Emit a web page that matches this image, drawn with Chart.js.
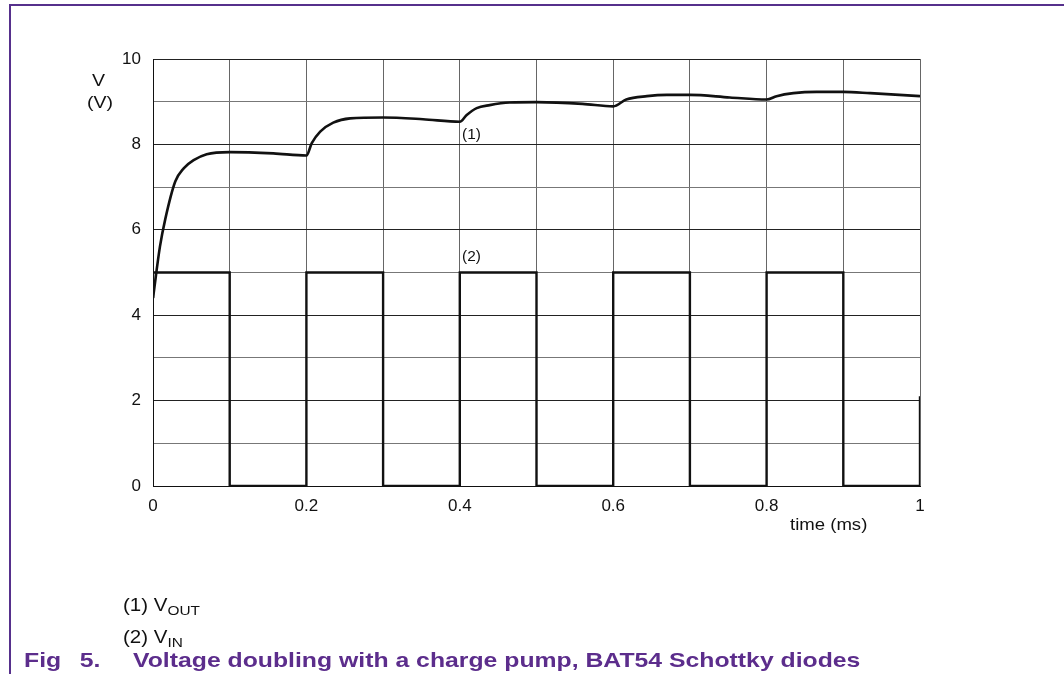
<!DOCTYPE html>
<html>
<head>
<meta charset="utf-8">
<script src="https://cdn.jsdelivr.net/npm/chart.js@4.4.0/dist/chart.umd.min.js"></script>
<style>
  body { margin: 0; background: #fff; font-family: "Liberation Sans", Arial, sans-serif; }
  #wrap { position: relative; width: 1064px; height: 674px; overflow: hidden; }
  canvas { position: absolute; left: 0; top: 0; }
  .frameTop { position: absolute; left: 9px; top: 4px; width: 1060px; height: 0; border-top: 2px solid #56308c; }
  .frameLeft { position: absolute; left: 9px; top: 4px; width: 0; height: 680px; border-left: 2px solid #56308c; }
  .t { position: absolute; color: #111; white-space: nowrap; transform-origin: 0 0; }
  .cap { position: absolute; color: #5c2d8c; font-weight: bold; font-size: 21px; white-space: nowrap; transform-origin: 0 0; transform: scaleX(1.18); }
  sub { font-size: 75%; vertical-align: -4px; line-height: 0; }
</style>
</head>
<body>
<div id="wrap">
  <canvas id="grafico" width="1064" height="674"></canvas>
  <div class="frameTop"></div>
  <div class="frameLeft"></div>
  <div class="t" style="left:92px; top:71px; font-size:17px; transform:scaleX(1.15);">V</div>
  <div class="t" style="left:87px; top:93px; font-size:17px; transform:scaleX(1.15);">(V)</div>
  <div class="t" style="left:462px; top:126px; font-size:14px; transform:scaleX(1.1);">(1)</div>
  <div class="t" style="left:462px; top:248px; font-size:14px; transform:scaleX(1.1);">(2)</div>
  <div class="t" style="left:790px; top:516px; font-size:16px; transform:scaleX(1.16);">time (ms)</div>
  <div class="t" style="left:123px; top:595px; font-size:18px; transform:scaleX(1.14);">(1) V<sub>OUT</sub></div>
  <div class="t" style="left:123px; top:627px; font-size:18px; transform:scaleX(1.14);">(2) V<sub>IN</sub></div>
  <div class="cap" style="left:24px; top:648px; word-spacing:10px;">Fig 5.</div>
  <div class="cap" style="left:133px; top:648px;">Voltage doubling with a charge pump, BAT54 Schottky diodes</div>
</div>
<script>
// (1) VOUT - tensão de saída
const tempoSaida = [0, 0.009, 0.016, 0.029, 0.04, 0.053, 0.07, 0.1, 0.157, 0.2,
  0.207, 0.218, 0.235, 0.257, 0.3, 0.352, 0.4,
  0.409, 0.422, 0.439, 0.465, 0.5, 0.56, 0.6,
  0.617, 0.644, 0.67, 0.7, 0.752, 0.8,
  0.813, 0.835, 0.865, 0.9, 0.935, 1.0];
const tensaoSaida = [4.4, 5.6, 6.25, 7.13, 7.44, 7.63, 7.77, 7.82, 7.79, 7.74,
  8.03, 8.3, 8.51, 8.61, 8.63, 8.59, 8.53,
  8.69, 8.85, 8.92, 8.98, 8.99, 8.95, 8.89,
  9.05, 9.13, 9.16, 9.16, 9.1, 9.05,
  9.13, 9.2, 9.23, 9.23, 9.2, 9.13];

// (2) VIN - onda quadrada de entrada
const tempoEntrada = [0, 0, 0.1, 0.1, 0.2, 0.2, 0.3, 0.3, 0.4, 0.4, 0.5, 0.5,
  0.6, 0.6, 0.7, 0.7, 0.8, 0.8, 0.9, 0.9, 1.0, 1.0];
const tensaoEntrada = [4.4, 5, 5, 0, 0, 5, 5, 0, 0, 5, 5, 0,
  0, 5, 5, 0, 0, 5, 5, 0, 0, 2.1];

function pontos(xs, ys) {
  return xs.map((x, i) => ({ x: x, y: ys[i] }));
}

const ctx = document.getElementById('grafico').getContext('2d');

new Chart(ctx, {
  type: 'line',
  data: {
    datasets: [{
      label: 'VOUT',
      data: pontos(tempoSaida, tensaoSaida),
      borderColor: '#111',
      borderWidth: 2.6,
      pointRadius: 0,
      cubicInterpolationMode: 'monotone',
      fill: false
    }, {
      label: 'VIN',
      data: pontos(tempoEntrada, tensaoEntrada),
      borderColor: '#111',
      borderWidth: 2.4,
      pointRadius: 0,
      tension: 0,
      fill: false
    }]
  },
  options: {
    responsive: false,
    animation: false,
    layout: { padding: { left: 0, top: 59, right: 144, bottom: 158 } },
    plugins: { legend: { display: false }, tooltip: { enabled: false } },
    scales: {
      x: {
        type: 'linear',
        min: 0, max: 1,
        afterFit: s => { s.height = 30; },
        ticks: {
          stepSize: 0.1,
          autoSkip: false,
          maxRotation: 0,
          padding: 10,
          color: '#111',
          font: { family: '"Liberation Sans", Arial', size: 17 },
          callback: v => (Math.round(v * 10) % 2 === 0 ? String(Math.round(v * 10) / 10) : '')
        },
        grid: { color: '#666', lineWidth: 1, drawTicks: false },
        border: { color: '#111', width: 1 }
      },
      y: {
        min: 0, max: 10,
        afterFit: s => { s.width = 153; },
        ticks: {
          stepSize: 1,
          autoSkip: false,
          padding: 12,
          color: '#111',
          font: { family: '"Liberation Sans", Arial', size: 17 },
          callback: v => (v % 2 === 0 ? String(v) : '')
        },
        grid: {
          color: c => (c.tick && c.tick.value % 2 === 0 ? '#222' : '#777'),
          lineWidth: 1,
          drawTicks: false
        },
        border: { color: '#111', width: 1 }
      }
    }
  }
});
</script>
</body>
</html>
